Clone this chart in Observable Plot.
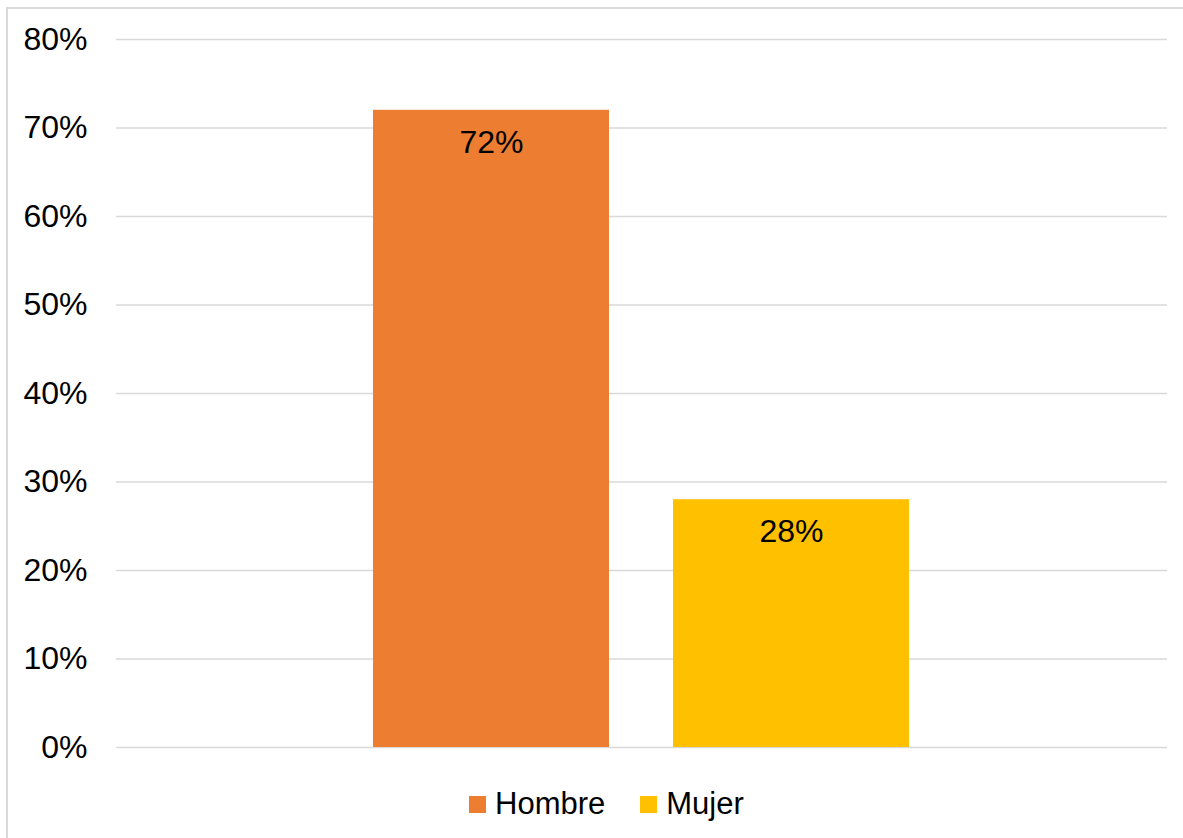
<!DOCTYPE html>
<html>
<head>
<meta charset="utf-8">
<script src="https://cdn.jsdelivr.net/npm/d3@7"></script>
<script src="https://cdn.jsdelivr.net/npm/@observablehq/plot@0.6"></script>
<style>
  html, body { margin: 0; padding: 0; background: #fff; }
  body { font-family: "Liberation Sans", Arial, sans-serif; }
  #wrap { position: relative; width: 1183px; height: 838px; overflow: hidden; }
  #frame { position: absolute; left: 6px; top: 7px; width: 1200px; height: 860px;
           border-left: 2px solid #d9d9d9; border-top: 2px solid #d9d9d9; box-sizing: border-box; }
  #chart { position: absolute; left: 0; top: 0; }
  #legend { position: absolute; left: 469px; top: 785px; display: flex; align-items: center;
            font-size: 31px; color: #000; height: 38px; }
  .item { display: flex; align-items: center; }
  .sw { width: 17px; height: 17px; margin-right: 9px; }
</style>
</head>
<body>
<div id="wrap">
  <div id="frame"></div>
  <div id="chart"></div>
  <div id="legend"></div>
</div>
<script>
const categories = ["Hombre", "Mujer"];
const values = [0.72, 0.28];
const colors = ["#ED7D31", "#FFC000"];
const yTicks = [0, 0.1, 0.2, 0.3, 0.4, 0.5, 0.6, 0.7, 0.8];

const data = categories.map((c, i) => ({category: c, value: values[i], color: colors[i]}));

const plot = Plot.plot({
  width: 1183,
  height: 775,
  marginTop: 39,
  marginBottom: 28,
  marginLeft: 116,
  marginRight: 16,
  style: {fontFamily: "Liberation Sans, Arial, sans-serif", fontSize: "32px", color: "#000", background: "transparent"},
  x: {domain: categories, paddingInner: 0.2133, paddingOuter: 0.858, axis: null},
  y: {domain: [0, 0.8], ticks: yTicks, tickFormat: d3.format(".0%"), label: null},
  marks: [
    Plot.ruleY(yTicks, {stroke: "#d9d9d9", strokeWidth: 1.5}),
    Plot.barY(data, {x: "category", y: "value", fill: "color"}),
    Plot.text(data, {x: "category", y: "value", text: d => d3.format(".0%")(d.value), dy: 32, fill: "#000", fontSize: 32}),
    Plot.axisY({ticks: yTicks, tickFormat: d3.format(".0%"), tickSize: 0, tickPadding: 29, fontSize: 32, fill: "#000", label: null})
  ]
});
document.getElementById("chart").appendChild(plot);

const legend = document.getElementById("legend");
categories.forEach((c, i) => {
  const item = document.createElement("div");
  item.className = "item";
  if (i > 0) item.style.marginLeft = "35px";
  const sw = document.createElement("div");
  sw.className = "sw";
  sw.style.background = colors[i];
  const lab = document.createElement("span");
  lab.textContent = c;
  item.appendChild(sw);
  item.appendChild(lab);
  legend.appendChild(item);
});
</script>
</body>
</html>
